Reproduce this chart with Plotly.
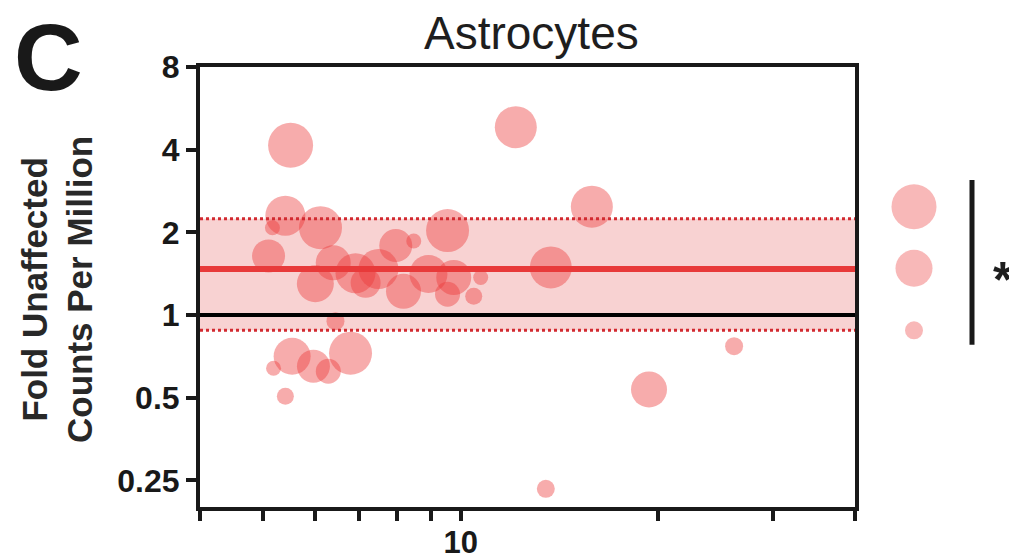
import plotly.graph_objects as go

# ---------------- data ----------------
x_vals = [5.50, 12.14, 15.86, 5.40, 6.11, 5.16, 5.09, 6.00, 6.39, 6.91, 7.49, 7.16,
          7.96, 8.48, 9.55, 8.93, 9.76, 10.73, 10.47, 8.18, 9.55, 13.73,
          5.53, 5.18, 5.96, 6.28, 6.79, 6.44, 5.40, 19.39, 26.15, 13.49]
y_vals = [4.15, 4.83, 2.48, 2.30, 2.08, 2.08, 1.64, 1.30, 1.55, 1.42, 1.47, 1.31,
          1.79, 1.86, 2.03, 1.41, 1.37, 1.37, 1.17, 1.22, 1.19, 1.49,
          0.708, 0.640, 0.651, 0.624, 0.726, 0.95, 0.506, 0.536, 0.770, 0.233]
bubble_sizes = [45, 42, 42, 40, 43, 15, 33, 37, 35, 40, 40, 30,
                33, 15, 43, 38, 35, 15, 17, 35, 25, 42,
                37, 15, 33, 25, 43, 18, 17, 36, 18, 18]

summary_y = [2.48, 1.48, 0.88]
summary_sizes = [45, 37, 18]

mean_fold = 1.47
ci_low = 0.88
ci_high = 2.24
reference_fold = 1.0
sig_bar = [0.78, 3.1]

x_ticks = [4, 5, 6, 7, 8, 9, 10, 20, 30, 40]
x_ticktext = ["", "", "", "", "", "", "<b>10</b>", "", "", ""]
y_ticks = [0.25, 0.5, 1, 2, 4, 8]
y_ticktext = ["<b>0.25</b>", "<b>0.5</b>", "<b>1</b>", "<b>2</b>", "<b>4</b>", "<b>8</b>"]

title_text = "Astrocytes"
y_title = "<b>Fold Unaffected<br>Counts Per Million</b>"
panel_letter = "<b>C</b>"

# ---------------- styles ----------------
FONT = "Liberation Sans, Arial, Helvetica, sans-serif"
bubble_color = "rgba(235,58,58,0.6)"
summary_color = "rgba(240,100,100,0.65)"

fig = go.Figure()

fig.add_trace(go.Scatter(
    x=x_vals, y=y_vals, mode="markers",
    marker=dict(size=bubble_sizes, color=bubble_color, line=dict(width=0)),
    xaxis="x", yaxis="y", showlegend=False, hoverinfo="x+y"))

fig.add_trace(go.Scatter(
    x=["summary"] * len(summary_y), y=summary_y, mode="markers",
    marker=dict(size=summary_sizes, color=summary_color, line=dict(width=0)),
    xaxis="x2", yaxis="y2", showlegend=False, hoverinfo="y"))

# CI band
fig.add_shape(type="rect", xref="x domain", yref="y", x0=0, x1=1, y0=ci_low, y1=ci_high,
              fillcolor="rgba(244,180,180,0.6)", line=dict(width=0), layer="below")
# dotted CI lines
for v in (ci_low, ci_high):
    fig.add_shape(type="line", xref="x domain", yref="y", x0=0, x1=1, y0=v, y1=v,
                  line=dict(color="rgb(210,42,48)", width=3, dash="dot"))
# mean line
fig.add_shape(type="line", xref="x domain", yref="y", x0=0, x1=1, y0=mean_fold, y1=mean_fold,
              line=dict(color="rgb(232,58,58)", width=6))
# reference line at 1
fig.add_shape(type="line", xref="x domain", yref="y", x0=0, x1=1, y0=reference_fold, y1=reference_fold,
              line=dict(color="black", width=4))
# significance bar
fig.add_shape(type="line", xref="paper", yref="y", x0=0.965, x1=0.965, y0=sig_bar[0], y1=sig_bar[1],
              line=dict(color="rgb(25,25,25)", width=5))

fig.add_annotation(text="<b>*</b>", xref="paper", yref="paper", x=1.004, y=0.515,
                   showarrow=False, font=dict(size=50, family=FONT, color="rgb(30,30,30)"),
                   xanchor="center", yanchor="middle")
fig.add_annotation(text=title_text, xref="paper", yref="paper", x=0.414, y=1.077,
                   showarrow=False, font=dict(size=46, family=FONT, color="rgb(30,30,30)"),
                   xanchor="center", yanchor="middle")
fig.add_annotation(text=panel_letter, xref="paper", yref="paper", x=-0.19, y=1.023,
                   showarrow=False, font=dict(size=95, family=FONT, color="rgb(25,25,25)"),
                   xanchor="center", yanchor="middle")
fig.add_annotation(text=y_title, xref="paper", yref="paper", x=-0.179, y=0.495,
                   showarrow=False, textangle=-90,
                   font=dict(size=35, family=FONT, color="rgb(40,40,40)"),
                   xanchor="center", yanchor="middle")

axis_color = "rgb(25,25,25)"
fig.update_layout(
    width=1009, height=549,
    margin=dict(l=192, r=17, t=59, b=50, autoexpand=False),
    paper_bgcolor="white", plot_bgcolor="white",
    font=dict(family=FONT, color="rgb(30,30,30)"),
    xaxis=dict(
        domain=[0, 0.81875], type="log", range=[0.60206, 1.60206],
        tickmode="array", tickvals=x_ticks, ticktext=x_ticktext,
        ticks="outside", ticklen=10, tickwidth=4, tickcolor=axis_color,
        showline=True, linewidth=4, linecolor=axis_color, mirror=True,
        showgrid=False, zeroline=False, automargin=False,
        ticklabelstandoff=-5,
        tickfont=dict(size=31, family=FONT, color=axis_color),
        anchor="y"),
    yaxis=dict(
        type="log", range=[-0.69897, 0.90309],
        tickmode="array", tickvals=y_ticks, ticktext=y_ticktext,
        ticks="outside", ticklen=10, tickwidth=4, tickcolor=axis_color,
        showline=True, linewidth=4, linecolor=axis_color, mirror=True,
        showgrid=False, zeroline=False, automargin=False,
        tickfont=dict(size=32, family=FONT, color=axis_color),
        anchor="x"),
    xaxis2=dict(domain=[0.855, 0.93], type="category", visible=False, anchor="y2",
                automargin=False),
    yaxis2=dict(type="log", range=[-0.69897, 0.90309], visible=False, anchor="x2",
                automargin=False),
)

fig.write_html("out.html")
